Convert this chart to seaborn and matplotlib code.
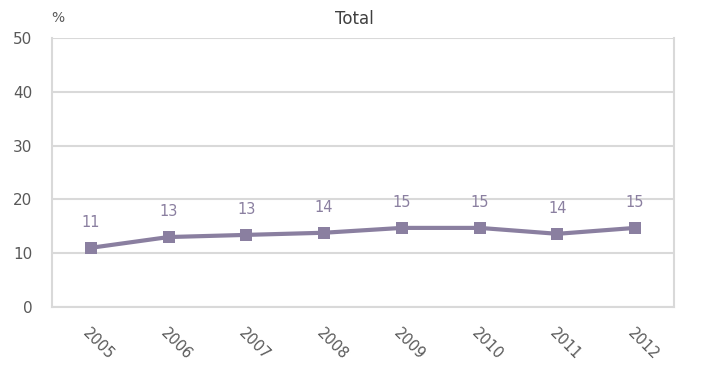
import pandas as pd
import matplotlib
matplotlib.use("Agg")
import matplotlib.pyplot as plt
import seaborn as sns

# values
years = ["2005", "2006", "2007", "2008", "2009", "2010", "2011", "2012"]
values = [11.0, 13.0, 13.4, 13.8, 14.7, 14.7, 13.6, 14.7]
labels = ["11", "13", "13", "14", "15", "15", "14", "15"]
y_ticks = [0, 10, 20, 30, 40, 50]

df = pd.DataFrame({"year": years, "value": values})

sns.set_style("white")
plt.rcParams['font.family'] = ['DejaVu Sans']

line_color = "#8a7fa0"
grid_color = "#d9d9d9"
text_color = "#595959"

fig = plt.figure(figsize=(7.09, 3.86), dpi=100)
ax = fig.add_axes([0.0733, 0.2047, 0.8773, 0.6969])

xpos = list(range(len(years)))
sns.lineplot(x=xpos, y=df["value"], ax=ax, color=line_color, linewidth=3,
             marker="s", markersize=8, markeredgewidth=0, markerfacecolor=line_color)

for x, v, lab in zip(xpos, values, labels):
    ax.annotate(lab, (x, v), xytext=(0, 13), textcoords="offset points",
                ha="center", va="bottom", color=line_color, fontsize=10.5)

ax.set_xlim(-0.5, len(years) - 0.5)
ax.set_ylim(0, 50)
ax.set_yticks(y_ticks)
ax.set_yticklabels([str(t) for t in y_ticks], color=text_color, fontsize=11)
ax.set_xticks(xpos)
ax.set_xticklabels(years, rotation=-45, ha="left", rotation_mode="anchor",
                   color=text_color, fontsize=10.5)
ax.tick_params(axis="x", length=5, color=grid_color, width=1.2, pad=8)
ax.tick_params(axis="y", length=0, pad=14)

ax.yaxis.grid(True, color=grid_color, linewidth=1.5)
ax.set_axisbelow(True)
for side in ["left", "bottom", "right"]:
    ax.spines[side].set_color(grid_color)
    ax.spines[side].set_linewidth(1.5)
ax.spines["top"].set_visible(False)

ax.set_xlabel("")
ax.set_ylabel("")
fig.text(0.5, 0.95, "Total", ha="center", va="center", fontsize=12, color="#404040")
fig.text(0.081, 0.953, "%", ha="center", va="center", fontsize=10, color=text_color)

fig.savefig("out.png", dpi=100)
